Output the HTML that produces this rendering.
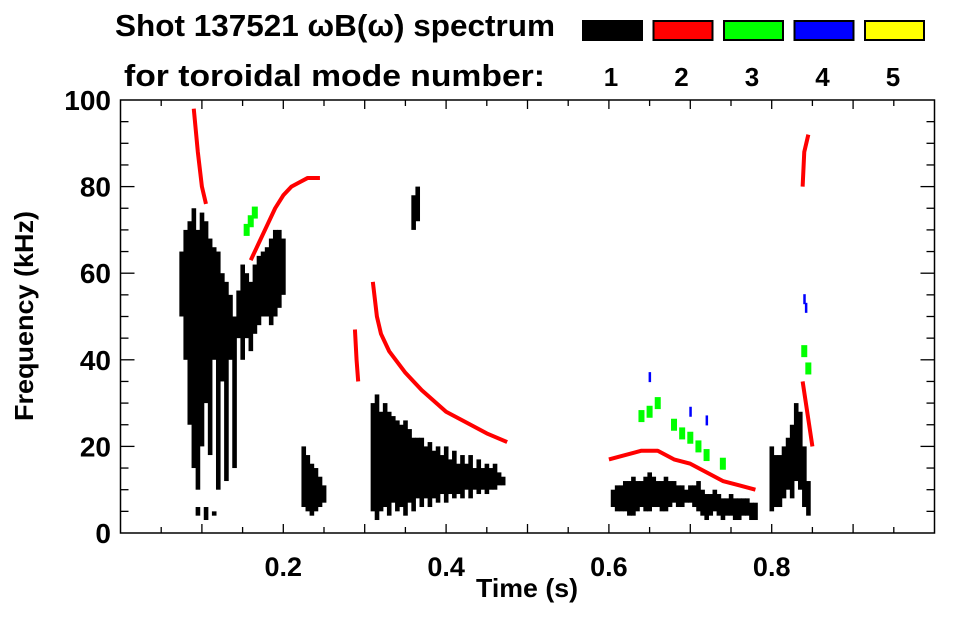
<!DOCTYPE html>
<html><head><meta charset="utf-8"><style>
body{margin:0;background:#fff;width:963px;height:615px;overflow:hidden;font-family:"Liberation Sans",sans-serif}
svg text{font-family:"Liberation Sans",sans-serif;font-weight:bold;fill:#000}
</style></head><body>
<svg id="chart" width="963" height="615" xmlns="http://www.w3.org/2000/svg">
<text x="115" y="36" font-size="31" textLength="440" lengthAdjust="spacingAndGlyphs">Shot 137521 ωB(ω) spectrum</text>
<text x="124" y="86" font-size="31" textLength="421" lengthAdjust="spacingAndGlyphs">for toroidal mode number:</text>
<g id="legend"></g>
<g id="marks"></g>
<g id="axes"></g>
<text transform="translate(33,316) rotate(-90)" text-anchor="middle" font-size="26" textLength="210" lengthAdjust="spacingAndGlyphs">Frequency (kHz)</text>
<text x="527" y="597" text-anchor="middle" font-size="26" textLength="102" lengthAdjust="spacingAndGlyphs">Time (s)</text>
</svg>
<script>
const modeLabels=["1","2","3","4","5"];
const modeColors=["#000000","#ff0000","#00ff00","#0000ff","#ffff00"];
const xTicks=[0.2,0.4,0.6,0.8];
const yTicks=[0,20,40,60,80,100];
// mode 1 columns: [time, fLow, fHigh]
const mode1=[[0.075,50,65],[0.08,40,70],[0.085,25,72],[0.09,15,75],[0.095,10,70],[0.1,20,74],[0.105,30,72],[0.11,18,68],[0.115,40,66],[0.12,10,65],[0.125,35,60],[0.13,12,58],[0.135,40,55],[0.14,15,50],[0.145,45,56],[0.15,40,62],[0.155,45,60],[0.16,42,58],[0.165,46,62],[0.17,48,64],[0.175,50,65],[0.18,50,66],[0.185,48,68],[0.19,50,70],[0.195,52,70],[0.2,55,68],
[0.095,4,6],[0.105,3,6],[0.115,4,5],
[0.225,6,20],[0.23,5,18],[0.235,4,16],[0.24,5,15],[0.245,6,13],[0.25,7,11],
[0.31,5,30],[0.315,3,32],[0.32,5,28],[0.325,6,30],[0.33,4,28],[0.335,7,27],[0.34,5,26],[0.345,6,25],[0.35,4,26],[0.355,7,24],[0.36,5,22],[0.365,8,22],[0.37,6,22],[0.375,8,20],[0.38,6,21],[0.385,8,19],[0.39,7,20],[0.395,9,18],[0.4,7,20],[0.405,9,17],[0.41,8,19],[0.415,9,16],[0.42,8,18],[0.425,10,16],[0.43,8,18],[0.435,10,15],[0.44,9,17],[0.445,10,15],[0.45,9,16],[0.455,10,15],[0.46,10,16],[0.465,11,14],[0.47,11,13],
[0.36,70,78],[0.365,72,80],
[0.605,6,10],[0.61,5,11],[0.615,5,11],[0.62,5,12],[0.625,4,12],[0.63,4,13],[0.635,5,12],[0.64,6,12],[0.645,5,13],[0.65,5,14],[0.655,6,13],[0.66,6,12],[0.665,5,12],[0.67,5,13],[0.675,6,12],[0.68,7,12],[0.685,6,11],[0.69,6,11],[0.695,7,10],[0.7,7,11],[0.705,6,11],[0.71,5,12],[0.715,4,10],[0.72,3,9],[0.725,4,9],[0.73,5,10],[0.735,4,9],[0.74,3,8],[0.745,4,8],[0.75,4,9],[0.755,3,8],[0.76,3,8],[0.765,4,8],[0.77,4,8],[0.775,3,7],[0.78,3,7],
[0.8,5,20],[0.805,6,18],[0.81,6,18],[0.815,8,20],[0.82,10,22],[0.825,8,25],[0.83,12,30],[0.835,10,28],[0.84,6,20],[0.845,4,12]];
// mode 2 trace segments: [time, freq]
const mode2a=[[0.09,98],[0.095,88],[0.1,80],[0.105,76]];
const mode2b=[[0.16,63],[0.17,67],[0.18,71],[0.19,75],[0.2,78],[0.21,80],[0.22,81],[0.23,82],[0.245,82]];
const mode2c=[[0.288,47],[0.29,40],[0.292,35]];
const mode2d=[[0.31,58],[0.315,50],[0.32,46],[0.33,42],[0.35,37],[0.37,33],[0.4,28],[0.42,26],[0.45,23],[0.475,21]];
const mode2e=[[0.6,17],[0.62,18],[0.64,19],[0.66,19],[0.68,17],[0.7,16],[0.72,14],[0.74,12],[0.76,11],[0.78,10]];
const mode2f=[[0.838,35],[0.842,30],[0.846,25],[0.85,20]];
const mode2g=[[0.838,80],[0.84,88],[0.845,92]];
const mode3=[[0.155,70],[0.16,72],[0.165,74],[0.64,27],[0.65,28],[0.66,30],[0.68,25],[0.69,23],[0.7,22],[0.71,20],[0.72,18],[0.74,16],[0.845,38],[0.84,42]];
const mode4=[[0.65,36],[0.7,28],[0.72,26],[0.84,54],[0.842,52]];

const X0=120.5,XS=814,Y0=533,YS=4.33;
const xs=t=>X0+t*XS, ys=f=>Y0-f*YS;
const NS="http://www.w3.org/2000/svg";
function mk(tag,attrs,parent){const e=document.createElementNS(NS,tag);for(const k in attrs)e.setAttribute(k,attrs[k]);parent.appendChild(e);return e;}
const lg=document.getElementById('legend');
modeLabels.forEach((l,i)=>{
  const bx=582+i*70.5;
  const r=mk('rect',{x:bx+1,y:21,width:59,height:19,fill:modeColors[i],stroke:'#000','stroke-width':2},lg);
  
  
  const t=mk('text',{x:bx+29,y:86,'text-anchor':'middle','font-size':26},lg);
  t.textContent=l;
  
  
});
const g=document.getElementById('marks');
mode1.forEach(d=>{
  const r=mk('rect',{x:xs(d[0])-2.2,y:ys(d[2]),width:4.6,height:(d[2]-d[1])*YS,fill:'#000'},g);
  
  
});
[mode2a,mode2b,mode2c,mode2d,mode2e,mode2f,mode2g].forEach(s=>{
  const p=mk('polyline',{points:s.map(d=>xs(d[0])+','+ys(d[1])).join(' '),fill:'none',stroke:'#ff0000','stroke-width':4,'stroke-linejoin':'round'},g);
  
  
});
mode3.forEach(d=>{
  const r=mk('rect',{x:xs(d[0])-3,y:ys(d[1])-6,width:6,height:12,fill:'#00ff00'},g);
  
  
});
mode4.forEach(d=>{
  const r=mk('rect',{x:xs(d[0])-1,y:ys(d[1])-5,width:2.5,height:10,fill:'#0000ff'},g);
  
  
});
const ax=document.getElementById('axes');
const L=xs(0),R=xs(1),T=ys(100),B=ys(0);
const frame=mk('rect',{x:L,y:T,width:R-L,height:B-T,fill:'none',stroke:'#000','stroke-width':1.5},ax);


for(let i=1;i<20;i++){const t=i*0.05,x=xs(t),len=(i%2==0)?9:6;
  mk('line',{x1:x,x2:x,y1:B,y2:B-len,stroke:'#000','stroke-width':1.3},ax);
  mk('line',{x1:x,x2:x,y1:T,y2:T+len,stroke:'#000','stroke-width':1.3},ax);}
for(let i=1;i<20;i++){const f=i*5,y=ys(f),len=(i%4==0)?14:8;
  mk('line',{x1:L,x2:L+len,y1:y,y2:y,stroke:'#000','stroke-width':1.3},ax);
  mk('line',{x1:R,x2:R-len,y1:y,y2:y,stroke:'#000','stroke-width':1.3},ax);}
xTicks.forEach(t=>{const e=mk('text',{x:xs(t),y:576,'text-anchor':'middle','font-size':27},ax);e.textContent=t.toFixed(1);
  
  });
yTicks.forEach(f=>{const e=mk('text',{x:111,y:ys(f)+10,'text-anchor':'end','font-size':28},ax);e.textContent=f;
  
  });
</script>
</body></html>
